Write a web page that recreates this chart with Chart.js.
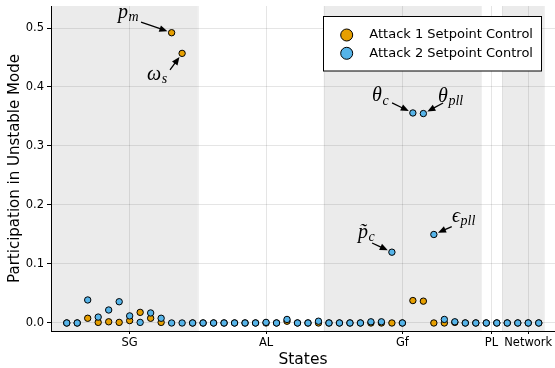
<!DOCTYPE html>
<html>
<head>
<meta charset="utf-8">
<script src="https://cdn.jsdelivr.net/npm/chart.js@4.4.1/dist/chart.umd.min.js"></script>
<style>
  html, body { margin: 0; padding: 0; background: #ffffff; }
  #wrap { width: 555px; height: 368px; }
</style>
</head>
<body>
<div id="wrap"><canvas id="chart" width="555" height="368"></canvas></div>
<script>
// State numbers along the x axis
const stateIndex = [
  1, 2, 3, 4, 5, 6, 7, 8, 9, 10, 11, 12, 13, 14, 15, 16, 17, 18, 19, 20, 21, 22, 23,
  24, 25, 26, 27, 28, 29, 30, 31, 32, 33, 34, 35, 36, 37, 38, 39, 40, 41, 42, 43, 44, 45, 46
];

// Participation factors in the unstable mode, one value per state
const attack1 = [
  0.000, 0.000, 0.008, 0.001, 0.002, 0.001, 0.004, 0.018, 0.008, 0.001, 0.492, 0.457,
  0.000, 0.000, 0.000, 0.000, 0.000, 0.000, 0.000, 0.000, 0.000, 0.003, 0.000, 0.000,
  0.000, 0.000, 0.000, 0.000, 0.000, 0.000, 0.000, 0.000, 0.000, 0.038, 0.037, 0.000,
  0.000, 0.001, 0.000, 0.000, 0.000, 0.000, 0.000, 0.000, 0.000, 0.000
];
const attack2 = [
  0.000, 0.000, 0.039, 0.010, 0.022, 0.036, 0.012, 0.001, 0.017, 0.008, 0.000, 0.000,
  0.000, 0.000, 0.000, 0.000, 0.000, 0.000, 0.000, 0.001, 0.000, 0.006, 0.000, 0.000,
  0.003, 0.000, 0.000, 0.000, 0.000, 0.002, 0.002, 0.120, 0.000, 0.356, 0.355, 0.150,
  0.006, 0.002, 0.000, 0.000, 0.000, 0.000, 0.000, 0.000, 0.000, 0.000
];

const seriesNames = ['Attack 1 Setpoint Control', 'Attack 2 Setpoint Control'];

// Component groups: tick label, tick position
const groupNames = ['SG', 'AL', 'Gf', 'PL', 'Network'];
const groupTickPos = [7, 20, 33, 41.5, 45];
// Shaded state ranges
const shadedSpans = [[-0.5, 13.5], [25.5, 40.5], [42.5, 46.5]];

const yTicks = [0, 0.1, 0.2, 0.3, 0.4, 0.5];

// Named states called out with arrows
const callouts = [
  { series: 0, state: 11, main: 'p',       sub: 'm',   label: [-53.6, -15.2], tail: [-30.6, -10.7] },
  { series: 0, state: 12, main: '\u03C9',  sub: 's',   label: [-35.0, 26.6],  tail: [-12.1, 16.6] },
  { series: 1, state: 34, main: '\u03B8',  sub: 'c',   label: [-40.8, -11.5], tail: [-20.8, -10.0] },
  { series: 1, state: 35, main: '\u03B8',  sub: 'pll', label: [14.7, -12.0],  tail: [19.7, -10.5] },
  { series: 1, state: 32, main: 'p\u0303', sub: 'c',   label: [-33.8, -14.2], tail: [-19.8, -9.2] },
  { series: 1, state: 36, main: '\u03F5',  sub: 'pll', label: [18.2, -12.5],  tail: [17.9, -7.8] }
];

const COLORS = ['#E69F00', '#56B4E9'];
const SANS = "'DejaVu Sans', sans-serif";
const MATH = "'Liberation Serif', 'DejaVu Serif', serif";

const shadePlugin = {
  id: 'shade',
  beforeDatasetsDraw(chart) {
    const { ctx, chartArea, scales } = chart;
    ctx.save();
    ctx.beginPath();
    ctx.rect(chartArea.left, chartArea.top, chartArea.right - chartArea.left, chartArea.bottom - chartArea.top);
    ctx.clip();
    shadedSpans.forEach(([a, b]) => {
      const x0 = scales.x.getPixelForValue(a);
      const x1 = scales.x.getPixelForValue(b);
      ctx.fillStyle = 'rgba(0,0,0,0.08)';
      ctx.fillRect(x0, chartArea.top, x1 - x0, chartArea.bottom - chartArea.top);
      ctx.strokeStyle = 'rgba(0,0,0,0.06)';
      ctx.lineWidth = 1;
      [x0, x1].forEach(x => {
        ctx.beginPath();
        ctx.moveTo(Math.round(x) + 0.5, chartArea.top);
        ctx.lineTo(Math.round(x) + 0.5, chartArea.bottom);
        ctx.stroke();
      });
    });
    ctx.restore();
  }
};

const calloutPlugin = {
  id: 'callouts',
  afterDatasetsDraw(chart) {
    const { ctx, scales } = chart;
    const values = [attack1, attack2];
    ctx.save();
    callouts.forEach(c => {
      const px = scales.x.getPixelForValue(c.state);
      const py = scales.y.getPixelForValue(values[c.series][c.state - 1]);
      // arrow from label towards the marker
      const sx = px + c.tail[0], sy = py + c.tail[1];
      const dx = px - sx, dy = py - sy;
      const len = Math.hypot(dx, dy);
      const ux = dx / len, uy = dy / len;
      const tipX = px - ux * 4.5, tipY = py - uy * 4.5;
      const headLen = 8, headHalf = 3.4;
      const baseX = tipX - ux * headLen, baseY = tipY - uy * headLen;
      ctx.strokeStyle = '#000';
      ctx.fillStyle = '#000';
      ctx.lineWidth = 1.3;
      ctx.beginPath();
      ctx.moveTo(sx, sy);
      ctx.lineTo(baseX + ux * 1, baseY + uy * 1);
      ctx.stroke();
      ctx.beginPath();
      ctx.moveTo(tipX, tipY);
      ctx.lineTo(baseX - uy * headHalf, baseY + ux * headHalf);
      ctx.lineTo(baseX + uy * headHalf, baseY - ux * headHalf);
      ctx.closePath();
      ctx.fill();
      // symbol with subscript
      const lx = px + c.label[0], ly = py + c.label[1];
      ctx.textAlign = 'left';
      ctx.textBaseline = 'alphabetic';
      ctx.font = 'italic 20px ' + MATH;
      ctx.fillText(c.main, lx, ly);
      const w = ctx.measureText(c.main).width;
      ctx.font = 'italic 14px ' + MATH;
      ctx.fillText(c.sub, lx + w + 0.5, ly + 3.5);
    });
    ctx.restore();
  }
};

const legendPlugin = {
  id: 'boxLegend',
  afterDraw(chart) {
    const { ctx } = chart;
    const bx = 323.5, by = 16.5, bw = 218, bh = 54.5;
    ctx.save();
    ctx.fillStyle = '#ffffff';
    ctx.fillRect(bx, by, bw, bh);
    ctx.strokeStyle = '#000';
    ctx.lineWidth = 1;
    ctx.strokeRect(bx, by, bw, bh);
    chart.data.datasets.forEach((ds, i) => {
      const cy = 35 + i * 18.3;
      ctx.beginPath();
      ctx.arc(346.7, cy, 6, 0, Math.PI * 2);
      ctx.fillStyle = ds.pointBackgroundColor;
      ctx.fill();
      ctx.strokeStyle = '#000';
      ctx.lineWidth = 1;
      ctx.stroke();
      ctx.fillStyle = '#000';
      ctx.font = '13px ' + SANS;
      ctx.textAlign = 'left';
      ctx.textBaseline = 'middle';
      ctx.fillText(ds.label, 369.3, cy);
    });
    ctx.restore();
  }
};

function makeSeries(values, i, order) {
  return {
    label: seriesNames[i],
    data: stateIndex.map((s, k) => ({ x: s, y: values[k] })),
    pointBackgroundColor: COLORS[i],
    backgroundColor: COLORS[i],
    pointBorderColor: '#000',
    pointBorderWidth: 1,
    pointRadius: 3.2,
    pointHoverRadius: 3.2,
    showLine: false,
    order: order
  };
}

new Chart(document.getElementById('chart'), {
  type: 'scatter',
  data: {
    datasets: [makeSeries(attack1, 0, 1), makeSeries(attack2, 1, 0)]
  },
  options: {
    responsive: false,
    animation: false,
    events: [],
    layout: { autoPadding: false, padding: { left: 0, right: 0, top: 6, bottom: 0 } },
    plugins: { legend: { display: false }, tooltip: { enabled: false } },
    scales: {
      x: {
        type: 'linear',
        min: -0.5,
        max: 47.55,
        afterBuildTicks: s => { s.ticks = groupTickPos.map(v => ({ value: v })); },
        afterFit: s => { s.height = 37; s.paddingLeft = 0; s.paddingRight = 0; },
        ticks: {
          callback: (v, i) => groupNames[i],
          autoSkip: false,
          maxRotation: 0,
          padding: 2,
          color: '#000',
          font: { family: SANS, size: 11.5 }
        },
        grid: { color: 'rgba(0,0,0,0.1)', lineWidth: 1, tickColor: '#000', tickLength: 3 },
        border: { color: '#000', width: 1 },
        title: {
          display: true,
          text: 'States',
          color: '#000',
          font: { family: SANS, size: 15.5, lineHeight: 1 },
          padding: { top: 0, bottom: 0 }
        }
      },
      y: {
        type: 'linear',
        min: -0.0136,
        max: 0.5373,
        afterBuildTicks: s => { s.ticks = yTicks.map(v => ({ value: v })); },
        afterFit: s => { s.width = 51; s.paddingTop = 0; s.paddingBottom = 0; },
        ticks: {
          callback: v => v.toFixed(1),
          padding: 3,
          color: '#000',
          font: { family: SANS, size: 11.5 }
        },
        grid: { color: 'rgba(0,0,0,0.1)', lineWidth: 1, tickColor: '#000', tickLength: 4 },
        border: { color: '#000', width: 1 },
        title: {
          display: true,
          text: 'Participation in Unstable Mode',
          color: '#000',
          font: { family: SANS, size: 15 },
          padding: { top: 6, bottom: 0 }
        }
      }
    }
  },
  plugins: [shadePlugin, calloutPlugin, legendPlugin]
});
</script>
</body>
</html>
